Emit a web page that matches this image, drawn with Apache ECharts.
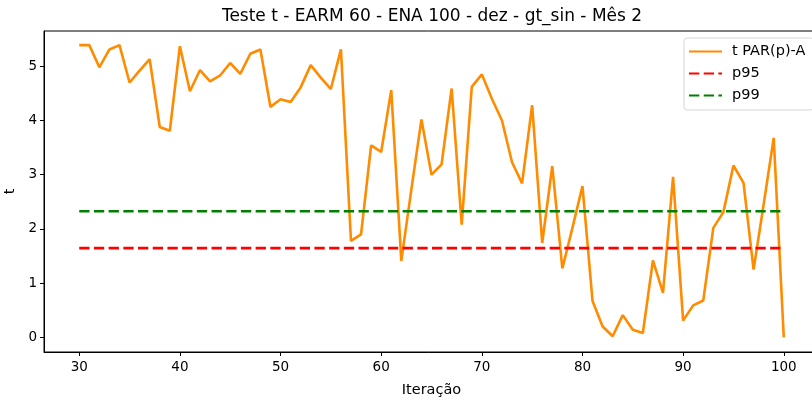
<!DOCTYPE html>
<html>
<head>
<meta charset="utf-8">
<script src="https://cdn.jsdelivr.net/npm/echarts@6/dist/echarts.min.js"></script>
<style>html,body{margin:0;padding:0;background:#fff}#c{width:812px;height:402px}</style>
</head>
<body>
<div id="c"></div>
<script>
const iterations = [30,31,32,33,34,35,36,37,38,39,40,41,42,43,44,45,46,47,48,49,50,51,52,53,54,55,56,57,58,59,60,61,62,63,64,65,66,67,68,69,70,71,72,73,74,75,76,77,78,79,80,81,82,83,84,85,86,87,88,89,90,91,92,93,94,95,96,97,98,99,100];
const tValues = [5.39,5.39,4.98,5.31,5.39,4.70,4.92,5.13,3.88,3.81,5.37,4.54,4.93,4.72,4.83,5.06,4.86,5.23,5.31,4.25,4.39,4.34,4.61,5.02,4.79,4.58,5.31,1.78,1.90,3.54,3.42,4.56,1.41,2.73,4.02,3.00,3.19,4.59,2.08,4.62,4.85,4.40,4.00,3.23,2.84,4.28,1.74,3.16,1.27,2.02,2.79,0.67,0.20,0.02,0.41,0.14,0.08,1.42,0.82,2.96,0.31,0.59,0.68,2.02,2.31,3.17,2.85,1.25,2.45,3.68,0.00];
const p95 = 1.645;
const p99 = 2.326;
const xTicks = [30,40,50,60,70,80,90,100];
const yTicks = [0,1,2,3,4,5];
const seriesNames = ['t PAR(p)-A','p95','p99'];

const font = 'DejaVu Sans';
const chart = echarts.init(document.getElementById('c'), null, {renderer:'canvas'});
const dash = [10.3, 4.4];
chart.setOption({
  animation:false,
  backgroundColor:'#fff',
  title:{text:'Teste t - EARM 60 - ENA 100 - dez - gt_sin - Mês 2', left:427, top:3, textAlign:'center',
    textStyle:{fontFamily:font, fontSize:17, fontWeight:'normal', color:'#000'}},
  grid:{left:44, top:31, width:775, height:321, show:true, borderColor:'#000', borderWidth:1,
    backgroundColor:'transparent', outerBoundsMode:'none', containLabel:false},
  legend:{orient:'vertical', left:684, top:38, itemWidth:33, itemHeight:14, itemGap:7,
    padding:[6,8,7,4], backgroundColor:'#fff', borderColor:'#d6d6d6', borderWidth:1, borderRadius:3,
    itemStyle:{opacity:0},
    textStyle:{fontFamily:font, fontSize:14.5, color:'#000', padding:[0,0,0,5]}, data:seriesNames},
  xAxis:{type:'value', min:26.5, max:103.5, name:'Iteração', nameLocation:'middle', nameGap:31,
    nameTextStyle:{fontFamily:font, fontSize:14.5, color:'#000'},
    axisLine:{show:true, onZero:false, lineStyle:{color:'#000', width:1}},
    axisTick:{show:true, inside:false, length:4, customValues:xTicks, lineStyle:{color:'#000'}},
    axisLabel:{customValues:xTicks, fontFamily:font, fontSize:13.5, color:'#000', margin:8},
    splitLine:{show:false}},
  yAxis:{type:'value', min:-0.27, max:5.65, name:'t', nameLocation:'middle', nameGap:26,
    nameTextStyle:{fontFamily:font, fontSize:14.5, color:'#000'},
    axisLine:{show:true, onZero:false, lineStyle:{color:'#000', width:1}},
    axisTick:{show:true, inside:false, length:4, customValues:yTicks, lineStyle:{color:'#000'}},
    axisLabel:{customValues:yTicks, fontFamily:font, fontSize:13.5, color:'#000', margin:7},
    splitLine:{show:false}},
  series:[
    {name:seriesNames[0], type:'line', symbol:'none', data:iterations.map((x,i)=>[x,tValues[i]]),
      lineStyle:{color:'#ff8c00', width:2.6}, itemStyle:{color:'#ff8c00'}},
    {name:seriesNames[1], type:'line', symbol:'none', data:iterations.map(x=>[x,p95]),
      lineStyle:{color:'#ff0000', width:2.6, type:dash}, itemStyle:{color:'#ff0000'}},
    {name:seriesNames[2], type:'line', symbol:'none', data:iterations.map(x=>[x,p99]),
      lineStyle:{color:'#008000', width:2.6, type:dash}, itemStyle:{color:'#008000'}}
  ]
});
</script>
</body>
</html>
